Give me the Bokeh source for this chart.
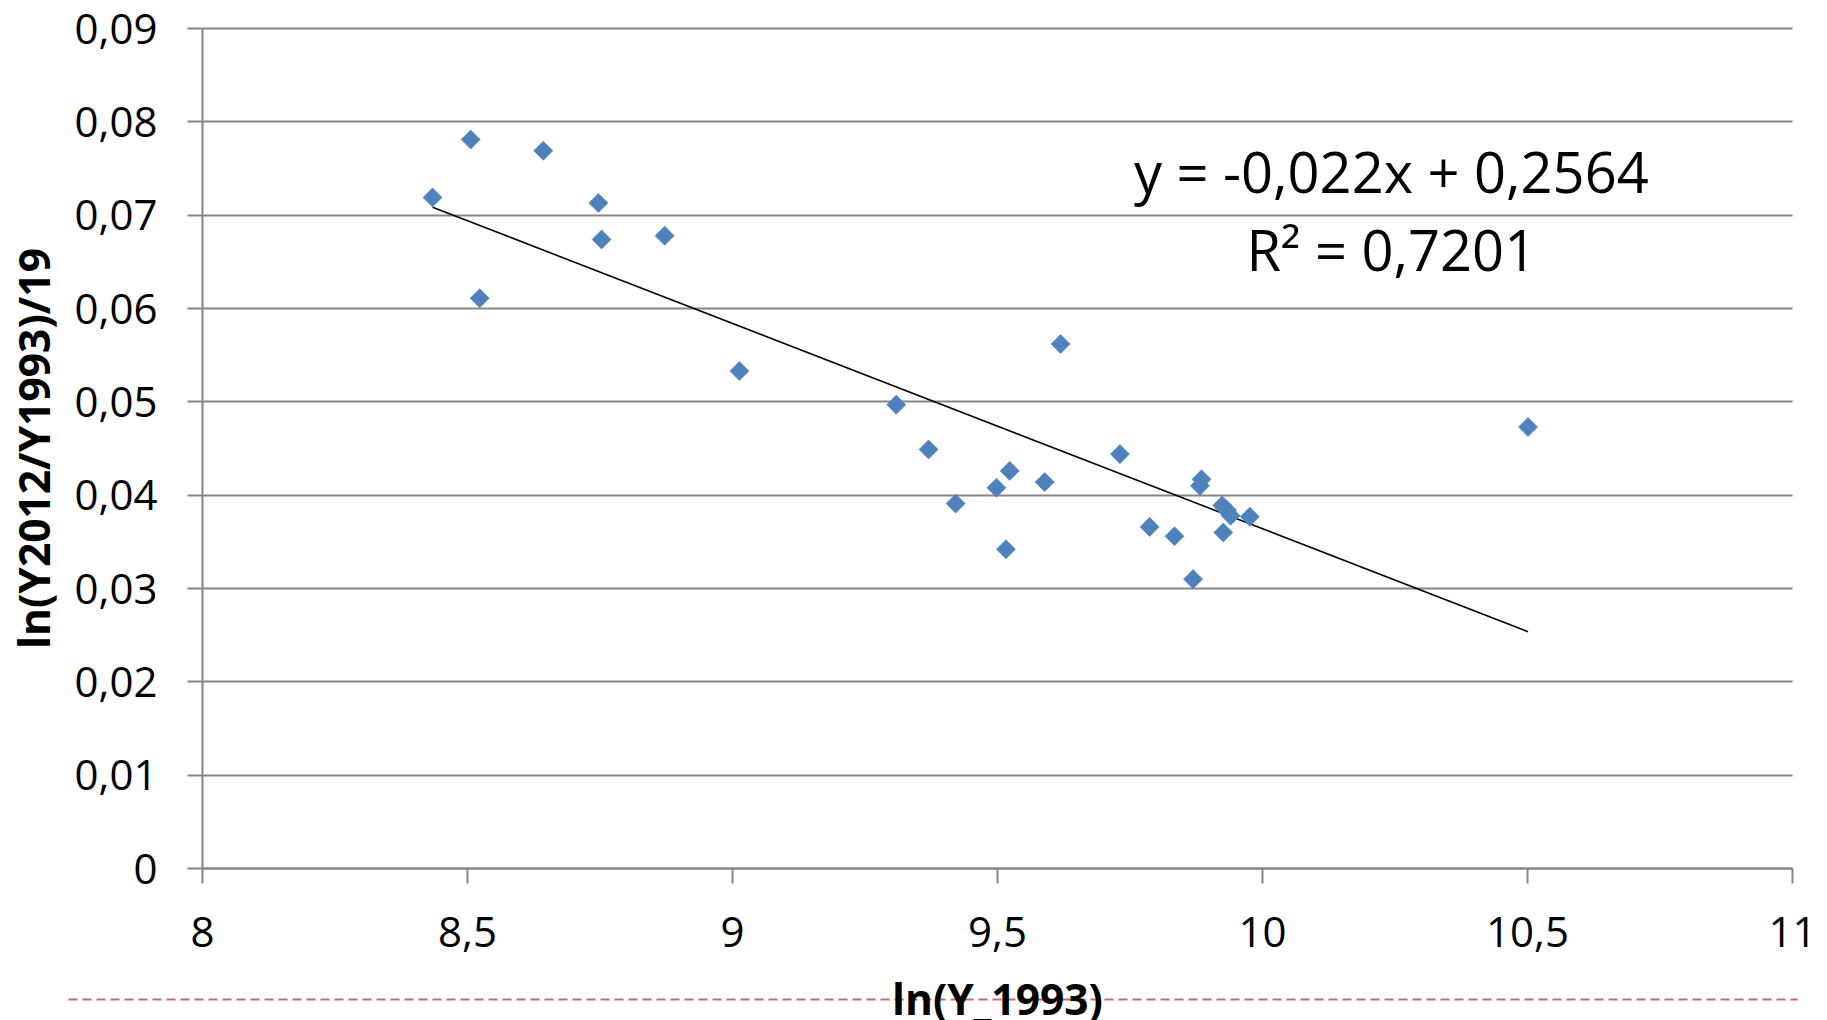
import numpy as np
from bokeh.plotting import figure
from bokeh.models import FixedTicker, Label, Range1d, ColumnDataSource
from bokeh.core.properties import value
from bokeh.embed import file_html
from bokeh.resources import INLINE

# ---- data ----
ln_y1993 = [8.434, 8.506, 8.523, 8.643, 8.747, 8.753, 8.872, 9.013, 9.309, 9.370,
            9.421, 9.498, 9.523, 9.516, 9.589, 9.619, 9.731, 9.787, 9.834, 9.869,
            9.882, 9.885, 9.924, 9.933, 9.940, 9.926, 9.976, 10.501]
growth = [0.0719, 0.0781, 0.0611, 0.0769, 0.0713, 0.0674, 0.0678, 0.0533, 0.0497, 0.0449,
          0.0391, 0.0408, 0.0426, 0.0342, 0.0414, 0.0562, 0.0444, 0.0366, 0.0356, 0.0310,
          0.0410, 0.0417, 0.0389, 0.0384, 0.0378, 0.0360, 0.0377, 0.0473]

slope = -0.022
intercept = 0.2564
r_squared = 0.7201

x_ticks = [8, 8.5, 9, 9.5, 10, 10.5, 11]
x_tick_labels = ["8", "8,5", "9", "9,5", "10", "10,5", "11"]
y_ticks = [0, 0.01, 0.02, 0.03, 0.04, 0.05, 0.06, 0.07, 0.08, 0.09]
y_tick_labels = ["0", "0,01", "0,02", "0,03", "0,04", "0,05", "0,06", "0,07", "0,08", "0,09"]

x_label = "ln(Y_1993)"
y_label = "ln(Y2012/Y1993)/19"

# ---- layout / style ----
FONT = "Open Sans"
GREY = "#868686"
W, H = 1819, 1020                 # canvas size in px
AX_L, AX_R, AX_T, AX_B = 202, 1792, 28, 868   # where the axes box sits on the canvas
X0, X1 = x_ticks[0], x_ticks[-1]
Y0, Y1 = y_ticks[0], y_ticks[-1]
kx = (AX_R - AX_L) / (X1 - X0)
ky = (AX_B - AX_T) / (Y1 - Y0)

def px_to_x(px):
    return X0 + (px - AX_L) / kx

def px_to_y(py):
    return Y0 + (AX_B - py) / ky

# the frame covers the whole canvas; the axes are pinned at x=8 / y=0
p = figure(width=W, height=H,
           x_range=Range1d(px_to_x(0), px_to_x(W)), y_range=Range1d(px_to_y(H), px_to_y(0)),
           output_backend="svg", toolbar_location=None,
           min_border_left=0, min_border_right=0, min_border_top=0, min_border_bottom=0)
p.outline_line_color = None
p.background_fill_color = "white"
p.border_fill_color = "white"

p.xgrid.visible = False
p.ygrid.ticker = FixedTicker(ticks=y_ticks)
p.ygrid.grid_line_color = GREY
p.ygrid.grid_line_width = 2
p.ygrid.cross_bounds = (X0, X1)

for ax in (p.xaxis[0], p.yaxis[0]):
    ax.axis_line_color = GREY
    ax.axis_line_width = 2
    ax.major_tick_line_color = GREY
    ax.major_tick_line_width = 2
    ax.major_tick_out = 15
    ax.major_tick_in = 0
    ax.minor_tick_line_color = None
    ax.major_label_text_font = FONT
    ax.major_label_text_font_size = "42px"
    ax.major_label_text_color = "black"
    ax.axis_label_text_font = FONT
    ax.axis_label_text_font_size = "42.5px"
    ax.axis_label_text_font_style = "bold"
    ax.axis_label_text_color = "black"

p.xaxis.ticker = FixedTicker(ticks=x_ticks)
p.xaxis.major_label_overrides = dict(zip(x_ticks, x_tick_labels))
p.xaxis.bounds = (X0, X1)
p.xaxis.fixed_location = Y0
p.xaxis.major_label_standoff = 33

p.yaxis.ticker = FixedTicker(ticks=y_ticks)
p.yaxis.major_label_overrides = dict(zip(y_ticks, y_tick_labels))
p.yaxis.bounds = (Y0, Y1)
p.yaxis.fixed_location = X0
p.yaxis.major_label_standoff = 30
p.yaxis.axis_label = y_label
p.yaxis.axis_label_standoff = 10

# red dashed separator (drawn first, under the x-axis title)
sep_y = px_to_y(999)
p.line([px_to_x(68), px_to_x(1797)], [sep_y, sep_y], line_color="#c0504d", line_alpha=0.85,
       line_width=2, line_dash="9 5")

# x-axis title
p.text(x=[(X0 + X1) / 2], y=[px_to_y(998)], text=[x_label], text_font=value(FONT),
       text_font_style="bold", text_font_size="42.5px", text_align="center",
       text_baseline="alphabetic", text_color="black")

# trend line
xs = np.array([min(ln_y1993), max(ln_y1993)])
p.line(xs, slope * xs + intercept, line_color="black", line_width=1.6)

# points
src = ColumnDataSource(dict(x=ln_y1993, y=growth))
p.scatter("x", "y", source=src, marker="square", size=13.5, angle=np.pi / 4,
          fill_color="#4F81BD", line_color="#4F81BD", line_width=0.6)

def fmt(v, nd):
    return f"{v:.{nd}f}".replace(".", ",")

eq_text = f"y = {fmt(slope, 3)}x + {fmt(intercept, 4)}"
r2_text = f"R² = {fmt(r_squared, 4)}"
p.add_layout(Label(x=10.243, y=0.0747, text=eq_text, text_font=FONT, text_font_size="56px",
                   text_align="center", text_baseline="middle", text_color="black"))
p.add_layout(Label(x=10.243, y=0.0664, text=r2_text, text_font=FONT, text_font_size="56px",
                   text_align="center", text_baseline="middle", text_color="black"))

open("out.html", "w").write(file_html(p, INLINE))
